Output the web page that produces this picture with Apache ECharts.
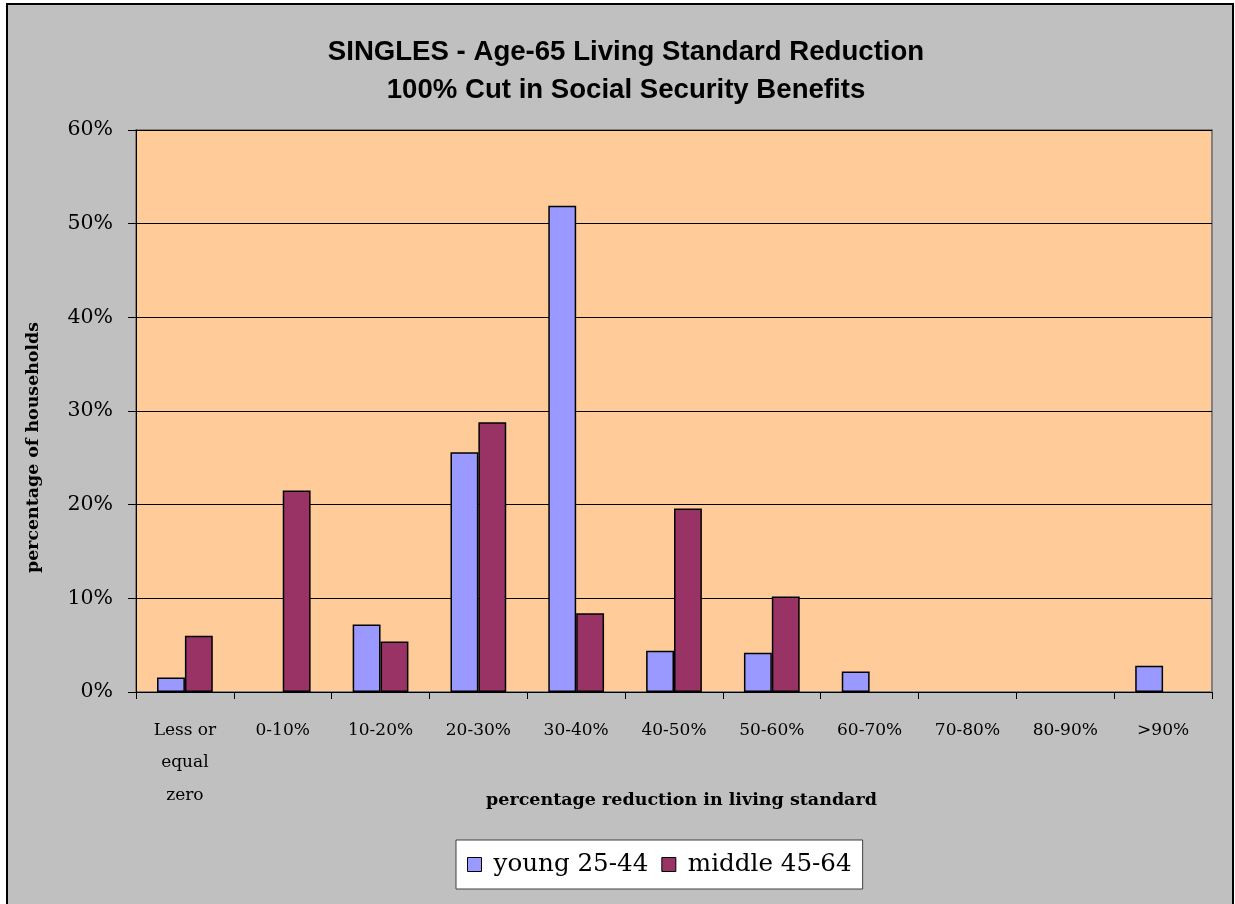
<!DOCTYPE html>
<html>
<head>
<meta charset="utf-8">
<script src="https://cdn.jsdelivr.net/npm/echarts@6/dist/echarts.min.js"></script>
<style>
html,body{margin:0;padding:0;background:#ffffff;}
#frame{position:absolute;left:6px;top:3px;width:1228px;height:910px;background:#c0c0c0;border:2px solid #000;box-sizing:border-box;}
#chart{position:absolute;left:0;top:0;width:1235px;height:904px;}
</style>
</head>
<body>
<div id="frame"></div>
<div id="chart"></div>
<script>
const categories = ['Less or\nequal\nzero','0-10%','10-20%','20-30%','30-40%','40-50%','50-60%','60-70%','70-80%','80-90%','>90%'];
const youngValues = [1.55, 0, 7.2, 25.6, 51.9, 4.4, 4.2, 2.2, 0, 0, 2.8];
const middleValues = [6.0, 21.5, 5.4, 28.8, 8.4, 19.6, 10.2, 0, 0, 0, 0];
const yTicks = [0, 10, 20, 30, 40, 50, 60];
const titleLines = ['SINGLES - Age-65 Living Standard Reduction', '100% Cut in Social Security Benefits'];

// zero-height bars are not drawn in the reference (no outline)
const asBarData = arr => arr.map(v => v === 0 ? {value: v, itemStyle: {borderWidth: 0, opacity: 0}} : v);

const chart = echarts.init(document.getElementById('chart'), null, {renderer:'canvas'});
const serif = 'DejaVu Serif';
chart.setOption({
  backgroundColor: 'transparent',
  animation: false,
  title: {
    text: titleLines.join('\n'),
    left: 621, textAlign: 'center', top: 28,
    textStyle: {fontFamily: 'Liberation Sans', fontWeight: 'bold', fontSize: 27.6, lineHeight: 38, color: '#000'}
  },
  legend: {
    data: ['young 25-44', 'middle 45-64'],
    left: 456, top: 840,
    padding: [12, 11, 12, 11],
    backgroundColor: '#ffffff', borderColor: '#404040', borderWidth: 1,
    itemWidth: 14, itemHeight: 14, itemGap: 13,
    icon: 'rect',
    itemStyle: {borderColor: '#000', borderWidth: 1},
    textStyle: {fontFamily: serif, fontSize: 24.6, color: '#000', padding: [0,0,0,7]}
  },
  grid: {left: 136, right: 23, top: 130, bottom: 212, containLabel: false,
         show: true, backgroundColor: '#ffcc99', borderColor: '#808080', borderWidth: 2},
  xAxis: {
    type: 'category',
    data: categories,
    axisLine: {lineStyle: {color: '#000', width: 1}},
    axisTick: {show: true, length: 7, lineStyle: {color: '#000'}, alignWithLabel: false},
    axisLabel: {fontFamily: serif, fontSize: 17, color: '#000', lineHeight: 32.5, margin: 22, interval: 0},
    name: 'percentage reduction in living standard',
    nameLocation: 'middle', nameGap: 99, nameMoveOverlap: false,
    nameTextStyle: {fontFamily: serif, fontWeight: 'bold', fontSize: 17.5, color: '#000', padding: [0,0,0,15]}
  },
  yAxis: {
    type: 'value', min: 0, max: 60, interval: 10,
    axisLine: {show: true, lineStyle: {color: '#000'}},
    axisTick: {show: true, length: 8, lineStyle: {color: '#000'}},
    splitLine: {show: true, lineStyle: {color: '#000', width: 1}},
    axisLabel: {fontFamily: serif, fontSize: 20.5, color: '#000', margin: 23,
      formatter: v => yTicks.includes(v) ? v + '%' : ''},
  },
  graphic: [{
    type: 'text', left: 25, top: 322, rotation: Math.PI/2,
    style: {text: 'percentage of households', fontFamily: serif, fontWeight: 'bold', fontSize: 17.4, fill: '#000'}
  }],
  series: [
    {name: 'young 25-44', type: 'bar', data: asBarData(youngValues), barGap: '0%', barCategoryGap: '43%',
     itemStyle: {color: '#9999ff', borderColor: '#000', borderWidth: 1.5}},
    {name: 'middle 45-64', type: 'bar', data: asBarData(middleValues),
     itemStyle: {color: '#993366', borderColor: '#000', borderWidth: 1.5}}
  ]
});
</script>
</body>
</html>
